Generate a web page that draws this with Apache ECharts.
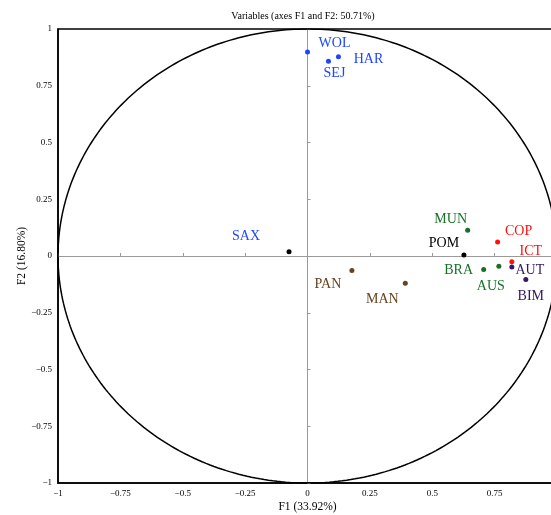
<!DOCTYPE html>
<html>
<head>
<meta charset="utf-8">
<script src="https://cdn.jsdelivr.net/npm/echarts@6/dist/echarts.min.js"></script>
<style>
  html, body { margin: 0; padding: 0; background: #fff; }
  #main { width: 551px; height: 515px; }
</style>
</head>
<body>
<div id="main"></div>
<script>
// variable names and their coordinates on F1 / F2
const names = ["WOL", "HAR", "SEJ", "SAX", "MUN", "POM", "COP", "ICT", "AUT", "BIM", "BRA", "AUS", "PAN", "MAN"]
const f1 = [0.000, 0.124, 0.084, -0.074, 0.642, 0.627, 0.762, 0.819, 0.819, 0.875, 0.706, 0.767, 0.178, 0.392]
const f2 = [0.899, 0.878, 0.858, 0.019, 0.113, 0.004, 0.062, -0.025, -0.048, -0.103, -0.059, -0.045, -0.064, -0.120]
const ticks = [-1, -0.75, -0.5, -0.25, 0, 0.25, 0.5, 0.75, 1]

// styling per variable: dot colour, label colour, label offset
const BLUE = "#1f45ff", GREEN = "#177028", RED = "#ff1010", PURPLE = "#351764", BROWN = "#66421f"
const look = {
  WOL: [BLUE, BLUE, [27, -9]],
  HAR: [BLUE, BLUE, [30, 3]],
  SEJ: [BLUE, BLUE, [6, 12]],
  SAX: ["#000", BLUE, [-43, -15]],
  MUN: [GREEN, GREEN, [-17, -11]],
  POM: ["#000", "#000", [-20, -12]],
  COP: [RED, RED, [21, -11]],
  ICT: [RED, RED, [19, -10]],
  AUT: [PURPLE, PURPLE, [18, 3]],
  BIM: [PURPLE, PURPLE, [5, 17]],
  BRA: [GREEN, GREEN, [-25, 1]],
  AUS: [GREEN, GREEN, [-8, 20]],
  PAN: [BROWN, BROWN, [-24, 14]],
  MAN: [BROWN, BROWN, [-23, 16]]
}

const serif = "Liberation Serif"
const fmt = (v) => String(v).replace("-", "\u2212")

// unit circle (correlation circle)
const circle = []
for (let a = 0; a <= 360; a++) {
  const r = (a * Math.PI) / 180
  circle.push([Math.cos(r), Math.sin(r)])
}

const points = names.map((n, i) => {
  const s = look[n]
  return {
    name: n,
    value: [f1[i], f2[i]],
    itemStyle: { color: s[0], opacity: 1 },
    label: { color: s[1], offset: s[2] }
  }
})

const chart = echarts.init(document.getElementById("main"))

const frameAxis = (extra) => Object.assign({
  type: "value",
  min: ticks[0],
  max: ticks[ticks.length - 1],
  interval: 0.25,
  splitLine: { show: false },
  axisTick: { show: false },
  axisLine: { onZero: false, lineStyle: { color: "#000", width: 1.5 } },
  axisLabel: { formatter: fmt, fontFamily: serif, fontSize: 9, color: "#000", margin: 6 },
  nameLocation: "middle",
  nameMoveOverlap: false,
  nameTextStyle: { fontFamily: serif, fontSize: 11.5, color: "#000" }
}, extra)

const zeroAxis = (extra) => Object.assign({
  type: "value",
  min: ticks[0],
  max: ticks[ticks.length - 1],
  interval: 0.25,
  splitLine: { show: false },
  axisLabel: { show: false },
  axisTick: { show: true, inside: true, length: 3, lineStyle: { color: "#999" } },
  axisLine: { onZero: true, onZeroAxisIndex: 0, lineStyle: { color: "#999", width: 1 } }
}, extra)

chart.setOption({
  backgroundColor: "#fff",
  animation: false,
  title: {
    text: "Variables (axes F1 and F2: 50.71%)",
    left: 298,
    top: 6,
    textAlign: "center",
    textStyle: { fontFamily: serif, fontSize: 10, fontWeight: "normal", color: "#000" }
  },
  grid: {
    left: 58, top: 29, right: -6, bottom: 32,
    outerBoundsMode: "none",
    containLabel: false,
    show: true, borderColor: "#000", borderWidth: 1.5, backgroundColor: "transparent"
  },
  xAxis: [
    frameAxis({ position: "bottom", name: "F1 (33.92%)", nameGap: 18 }),
    zeroAxis({ position: "bottom" })
  ],
  yAxis: [
    frameAxis({ position: "left", name: "F2 (16.80%)", nameGap: 30, nameRotate: 90 }),
    zeroAxis({ position: "left" })
  ],
  series: [
    {
      type: "line",
      data: circle,
      showSymbol: false,
      silent: true,
      smooth: false,
      lineStyle: { color: "#000", width: 1.5 },
      z: 1
    },
    {
      type: "scatter",
      data: points,
      symbolSize: 5,
      label: {
        show: true,
        position: "inside",
        formatter: "{b}",
        fontFamily: serif,
        fontSize: 14,
        align: "center",
        verticalAlign: "middle"
      },
      z: 3
    }
  ]
})
</script>
</body>
</html>
